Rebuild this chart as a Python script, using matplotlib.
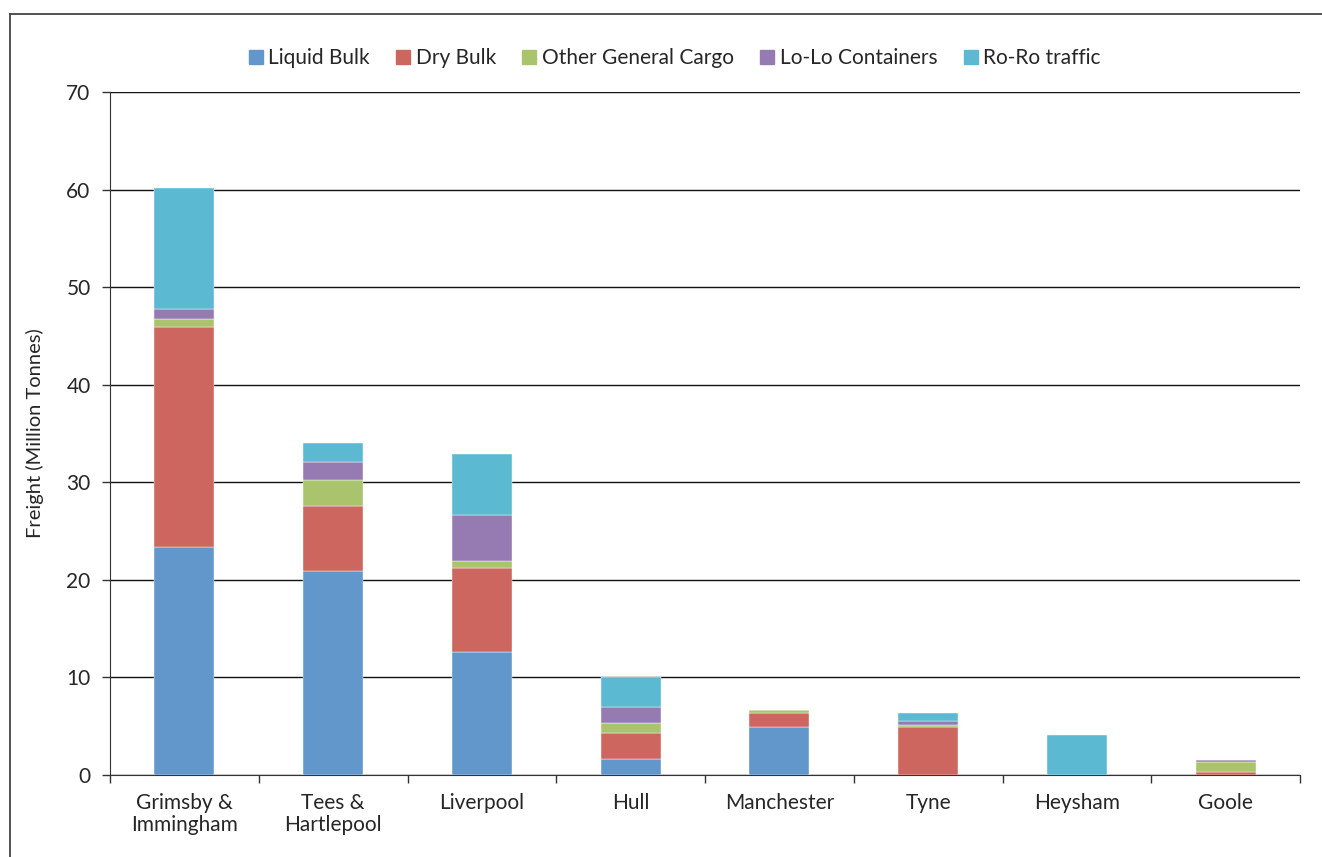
import matplotlib
matplotlib.use("Agg")
import matplotlib.pyplot as plt
import numpy as np
from matplotlib.lines import Line2D

PORTS = ["Grimsby &\nImmingham", "Tees &\nHartlepool", "Liverpool", "Hull",
         "Manchester", "Tyne", "Heysham", "Goole"]
SERIES = ["Liquid Bulk", "Dry Bulk", "Other General Cargo", "Lo-Lo Containers", "Ro-Ro traffic"]
LIQUID = [23.4, 20.9, 12.6, 1.6, 4.95, 0.0, 0.0, 0.05]
DRY    = [22.5, 6.7, 8.65, 2.7, 1.45, 4.95, 0.0, 0.25]
OTHER  = [0.8, 2.6, 0.7, 1.0, 0.25, 0.2, 0.0, 1.05]
LOLO   = [1.1, 1.9, 4.7, 1.7, 0.05, 0.4, 0.0, 0.2]
RORO   = [12.4, 1.9, 6.3, 3.0, 0.0, 0.85, 4.1, 0.0]
COLORS = ["#6197CA", "#CC665E", "#A9C46C", "#967BB2", "#5BB9D2"]

FONT = "Lato"
INK = "#262626"

fig = plt.figure(figsize=(13.22, 8.57), dpi=100)
ax = fig.add_axes([110/1322, 1 - 775/857, 1190/1322, 683/857])

x = np.arange(len(PORTS))
bottom = np.zeros(len(PORTS))
for name, vals, col in zip(SERIES, [LIQUID, DRY, OTHER, LOLO, RORO], COLORS):
    vals = np.array(vals)
    ax.bar(x, vals, 0.405, bottom=bottom, color=col, label=name, zorder=3,
           edgecolor="white", linewidth=0.3)
    bottom += vals

ax.set_xlim(-0.5, len(PORTS) - 0.5)
ax.set_ylim(0, 70)
ax.set_yticks(np.arange(0, 71, 10))
ax.yaxis.grid(True, color="#111111", linewidth=1.0, zorder=0)
ax.set_axisbelow(True)

ax.set_xticks(x)
ax.set_xticklabels(PORTS, fontsize=15, family=FONT, color=INK, linespacing=1.1)
ax.set_xticks(np.arange(-0.5, len(PORTS)), minor=True)
ax.tick_params(axis="x", which="major", length=0, pad=13)
ax.tick_params(axis="x", which="minor", length=6, width=1, color="#333333")
ax.tick_params(axis="y", length=6, width=1, color="#333333", labelsize=15,
               labelcolor=INK, pad=8)
for lab in ax.get_yticklabels():
    lab.set_family(FONT)

for s in ["top", "right"]:
    ax.spines[s].set_visible(False)
ax.spines["left"].set_color("#333333")
ax.spines["bottom"].set_color("#333333")

ax.set_ylabel("Freight (Million Tonnes)", fontsize=14.5, family=FONT,
              color=INK, labelpad=16)

handles = [Line2D([0], [0], marker="s", linestyle="", markersize=10,
                  markerfacecolor=c, markeredgecolor=c) for c in COLORS]
fig.legend(handles, SERIES, loc="center", bbox_to_anchor=(672/1322, 1 - 58/857),
           ncol=5, frameon=False, prop={"family": FONT, "size": 15},
           handletextpad=0.0, handlelength=1.2, columnspacing=1.0, labelcolor=INK)

# outer chart border
fig.add_artist(Line2D([10/1322, 10/1322], [0, 1 - 14/857], transform=fig.transFigure,
                      color="#444444", linewidth=1.3))
fig.add_artist(Line2D([10/1322, 1], [1 - 14/857, 1 - 14/857], transform=fig.transFigure,
                      color="#444444", linewidth=1.3))

fig.savefig("out.png", dpi=100, facecolor="white")
